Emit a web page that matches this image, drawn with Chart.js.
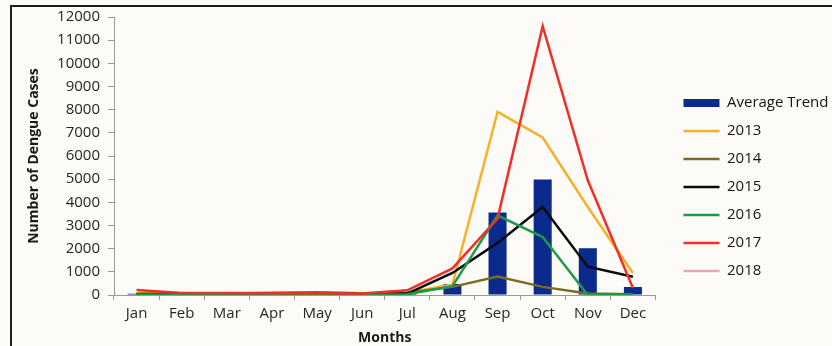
<!DOCTYPE html>
<html>
<head>
<meta charset="utf-8">
<script src="https://cdn.jsdelivr.net/npm/chart.js@4/dist/chart.umd.min.js"></script>
<style>
  html, body { margin: 0; padding: 0; background: #fcfbf8; }
  #wrap { position: relative; width: 832px; height: 346px; overflow: hidden; }
  #frame { position: absolute; left: 10px; top: 5px; width: 840px; height: 360px;
           border: 2px solid #1c1c1c; box-sizing: border-box; }
  canvas { position: absolute; left: 0; top: 0; }
</style>
</head>
<body>
<div id="wrap">
  <div id="frame"></div>
  <canvas id="c" width="832" height="346"></canvas>
</div>
<script>
// Monthly dengue cases
const months = ['Jan', 'Feb', 'Mar', 'Apr', 'May', 'Jun', 'Jul', 'Aug', 'Sep', 'Oct', 'Nov', 'Dec'];
const averageTrend = [50, 20, 20, 30, 40, 20, 60, 470, 3560, 4990, 2020, 340];
const cases2013 = [80, 50, 50, 60, 80, 60, 100, 450, 7900, 6800, 3800, 950];
const cases2014 = [50, 60, 70, 100, 120, 80, 100, 350, 800, 350, 60, 30];
const cases2015 = [30, 30, 30, 40, 50, 30, 60, 950, 2250, 3800, 1220, 790];
const cases2016 = [20, 20, 20, 30, 40, 20, 30, 380, 3440, 2500, 0, 0];
const cases2017 = [220, 90, 90, 80, 80, 70, 200, 1150, 3300, 11600, 4950, 300];
const cases2018 = [null, null, null, null, null, null, null, null, null, null, null, null];
const yTicks = [0, 1000, 2000, 3000, 4000, 5000, 6000, 7000, 8000, 9000, 10000, 11000, 12000];

const tickFont = { family: 'Open Sans', size: 15 };
const titleFont = { family: 'Open Sans', size: 14, weight: 'bold' };

function yearLine(label, data, color, order) {
  return {
    type: 'line', label, data, order,
    borderColor: color, backgroundColor: color,
    borderWidth: 2.5, pointRadius: 0, tension: 0, fill: false
  };
}

// nudges the legend column to the right of the plot
const legendShift = {
  id: 'legendShift',
  afterLayout(chart) {
    const lg = chart.legend;
    if (!lg) return;
    lg.left += 15; lg.right += 15;
    lg.top += 6; lg.bottom += 6;
  }
};

new Chart(document.getElementById('c'), {
  type: 'bar',
  data: {
    labels: months,
    datasets: [
      { type: 'bar', label: 'Average Trend', data: averageTrend, order: 7,
        backgroundColor: '#0c2a8c', borderWidth: 0,
        barPercentage: 0.4, categoryPercentage: 1 },
      yearLine('2013', cases2013, '#f6b02a', 6),
      yearLine('2014', cases2014, '#7a6a22', 5),
      yearLine('2015', cases2015, '#0a0a0a', 4),
      yearLine('2016', cases2016, '#1d9a47', 3),
      yearLine('2017', cases2017, '#ee3026', 2),
      yearLine('2018', cases2018, '#f2a3b3', 1)
    ]
  },
  options: {
    responsive: false,
    animation: false,
    devicePixelRatio: 1,
    layout: { padding: { top: 16, left: 0, right: 8.5, bottom: 0 } },
    plugins: {
      tooltip: { enabled: false },
      legend: {
        position: 'right',
        align: 'center',
        labels: {
          sort: (a, b) => a.datasetIndex - b.datasetIndex,
          usePointStyle: true,
          pointStyleWidth: 36,
          boxHeight: 8,
          padding: 13,
          color: '#151515',
          font: { family: 'Open Sans', size: 15 },
          generateLabels(chart) {
            return chart.data.datasets.map((ds, i) => ({
              text: ds.label,
              datasetIndex: i,
              pointStyle: ds.type === 'bar' ? 'rect' : 'line',
              fillStyle: ds.type === 'bar' ? ds.backgroundColor : ds.borderColor,
              strokeStyle: ds.type === 'bar' ? ds.backgroundColor : ds.borderColor,
              lineWidth: ds.type === 'bar' ? 0 : 2.5,
              fontColor: '#151515',
              hidden: false
            }));
          }
        }
      }
    },
    scales: {
      x: {
        offset: true,
        grid: { offset: true, drawOnChartArea: false, drawTicks: true, tickLength: 5, color: '#9a9a9a' },
        border: { display: true, color: '#9a9a9a', width: 1 },
        ticks: { color: '#262626', font: tickFont, padding: 5, maxRotation: 0 },
        title: { display: true, text: 'Months', color: '#1a1a1a', font: titleFont, padding: { top: 0, bottom: 0 } },
        afterFit(scale) { scale.height = 51; }
      },
      y: {
        min: 0,
        max: 12000,
        grid: { drawOnChartArea: false, drawTicks: true, tickLength: 6, color: '#9a9a9a' },
        border: { display: true, color: '#9a9a9a', width: 1 },
        afterBuildTicks(scale) { scale.ticks = yTicks.map(v => ({ value: v })); },
        ticks: { color: '#262626', font: tickFont, padding: 8, callback: v => String(v) },
        title: { display: true, text: 'Number of Dengue Cases', color: '#1a1a1a', font: titleFont, padding: { top: 26, bottom: 0 } },
        afterFit(scale) { scale.width = 114; }
      }
    }
  },
  plugins: [legendShift]
});
</script>
</body>
</html>
